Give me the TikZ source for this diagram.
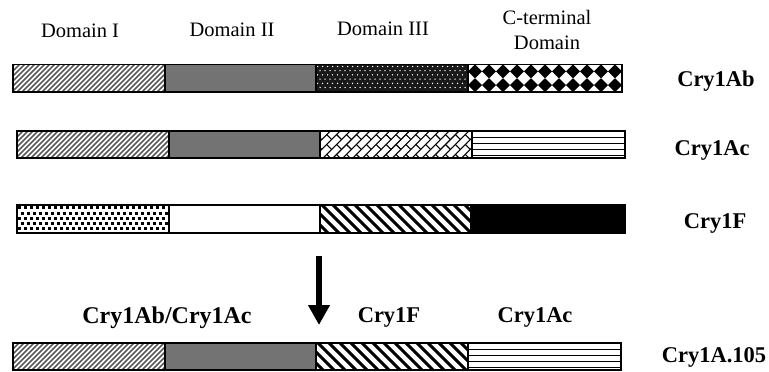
\documentclass[tikz,border=0pt]{standalone}
\usepackage{fontspec}
\setmainfont{Liberation Serif}
\usetikzlibrary{arrows.meta}

% fine "/" hatch (Domain I)
\newcommand{\patFineHatch}[4]{%
  \begin{scope}
    \clip (#1,#2) rectangle (#3,#4);
    \foreach \k in {0,...,40} {\draw[black!65, line width=1.6pt] ({#1-32+\k*5},{#4+1}) -- ++(32,-32);}
  \end{scope}}
% fine gray (Domain II)
\newcommand{\patGray}[4]{%
  \fill[black!55] (#1,#2) rectangle (#3,#4);}
% black with white dots
\newcommand{\patDots}[4]{%
  \begin{scope}
    \clip (#1,#2) rectangle (#3,#4);
    \fill[black!90] (#1,#2) rectangle (#3,#4);
    \foreach \r in {0,...,6} {\foreach \c in {0,...,32} {%
      \fill[white] ({#1+1.5+\c*5+mod(\r,2)*2.5},{#2+2+\r*4.2}) circle (0.75);}}
  \end{scope}}
% black diamonds
\newcommand{\patDiamonds}[4]{%
  \begin{scope}
    \clip (#1,#2) rectangle (#3,#4);
    \foreach \r in {0,1} {\foreach \c in {0,...,10} {%
      \pgfmathsetmacro{\cx}{#1+((#3)-(#1))/11*(\c+0.5)}%
      \pgfmathsetmacro{\cy}{#2+((#4)-(#2))/4*(2*\r+1)}%
      \pgfmathsetmacro{\hw}{((#3)-(#1))/22}%
      \pgfmathsetmacro{\hv}{((#4)-(#2))/4}%
      \fill[black] ({\cx-\hw},\cy) -- (\cx,{\cy-\hv}) -- ({\cx+\hw},\cy) -- (\cx,{\cy+\hv}) -- cycle;}}
  \end{scope}}
% diagonal bricks
\newcommand{\patBricks}[4]{%
  \begin{scope}
    \clip (#1,#2) rectangle (#3,#4);
    \begin{scope}[shift={({((#1)+(#3))/2},{((#2)+(#4))/2})}, rotate=45]
      \foreach \k in {-13,...,13} {%
        \draw[black, line width=1.1pt] (-130,{\k*7}) -- (130,{\k*7});
        \foreach \j in {-10,...,10} {\draw[black, line width=1.1pt] ({\j*14+mod(\k,2)*7},{\k*7}) -- ++(0,7);}}
    \end{scope}
  \end{scope}}
% horizontal lines
\newcommand{\patHLines}[4]{%
  \foreach \f in {0.23,0.46,0.69,0.92} {\draw[black, line width=1.1pt] (#1,{#2+\f*((#4)-(#2))}) -- (#3,{#2+\f*((#4)-(#2))});}}
% black squares on white
\newcommand{\patSquares}[4]{%
  \begin{scope}
    \clip (#1,#2) rectangle (#3,#4);
    \foreach \r in {0,...,5} {\foreach \c in {0,...,26} {%
      \fill[black] ({#1+1+\c*6+mod(\r,2)*3},{#2+1.2+\r*5.3}) rectangle ++(3,3);}}
  \end{scope}}
% bold "\" stripes
\newcommand{\patBold}[4]{%
  \begin{scope}
    \clip (#1,#2) rectangle (#3,#4);
    \foreach \k in {0,...,18} {\draw[black, line width=3pt] ({#1-32+\k*11},{#2-1}) -- ++(32,32);}
  \end{scope}}
% solid black
\newcommand{\patBlack}[4]{\fill[black] (#1,#2) rectangle (#3,#4);}

\begin{document}
\begin{tikzpicture}[x=1pt,y=-1pt,
  dom/.style={font=\fontsize{20.5}{24.7}\selectfont, anchor=base, inner sep=0pt, align=center},
  lab/.style={font=\fontsize{22.5}{26}\selectfont\bfseries, anchor=base, inner sep=0pt},
  barframe/.style={draw=black, line width=1.3pt}]
\useasboundingbox (0,0) rectangle (769,372);

% header labels
\node[dom] (d1) at (80,37.7) {Domain I};
\node[dom] (d2) at (232,36) {Domain II};
\node[dom] (d3) at (383,35) {Domain III};
\node[dom] (d4) at (547,49) {C-terminal\\Domain};

% Row 1: Cry1Ab
\patFineHatch{13}{64.5}{165}{92}
\patGray{165}{64.5}{316}{92}
\patDots{316}{64.5}{468}{92}
\patDiamonds{468}{64.5}{622}{92}
\draw[barframe] (13,64.5) rectangle (622,92);
\draw[barframe] (165,64.5) -- (165,92) (316,64.5) -- (316,92) (468,64.5) -- (468,92);
\node[lab] (n1) at (716,86.7) {Cry1Ab};

% Row 2: Cry1Ac
\patFineHatch{17}{131}{169}{158}
\patGray{169}{131}{320}{158}
\patBricks{320}{131}{472}{158}
\patHLines{472}{131}{625}{158}
\draw[barframe] (17,131) rectangle (625,158);
\draw[barframe] (169,131) -- (169,158) (320,131) -- (320,158) (472,131) -- (472,158);
\node[lab] (n2) at (712,155.5) {Cry1Ac};

% Row 3: Cry1F
\patSquares{17}{205}{169}{233}
\patBold{320}{205}{471}{233}
\patBlack{471}{205}{625}{233}
\draw[barframe] (17,205) rectangle (625,233);
\draw[barframe] (169,205) -- (169,233) (320,205) -- (320,233) (471,205) -- (471,233);
\node[lab] (n3) at (715,228) {Cry1F};

% arrow
\coordinate (arrTop) at (319,256);
\coordinate (arrTip) at (319,325);
\draw[line width=6.5pt, -{Triangle[width=20.7pt,length=20pt]}] (arrTop) -- (arrTip);

% bottom labels
\node[lab, font=\fontsize{24}{28}\selectfont\bfseries] (b1) at (167,323) {Cry1Ab/Cry1Ac};
\node[lab] (b2) at (389,322) {Cry1F};
\node[lab] (b3) at (535,322) {Cry1Ac};

% Row 4: Cry1A.105
\patFineHatch{13}{343}{165}{370}
\patGray{165}{343}{316}{370}
\patBold{316}{343}{468}{370}
\patHLines{468}{343}{621}{370}
\draw[barframe] (13,343) rectangle (621,370);
\draw[barframe] (165,343) -- (165,370) (316,343) -- (316,370) (468,343) -- (468,370);
\node[lab] (n4) at (714,362.5) {Cry1A.105};
\end{tikzpicture}
\end{document}
